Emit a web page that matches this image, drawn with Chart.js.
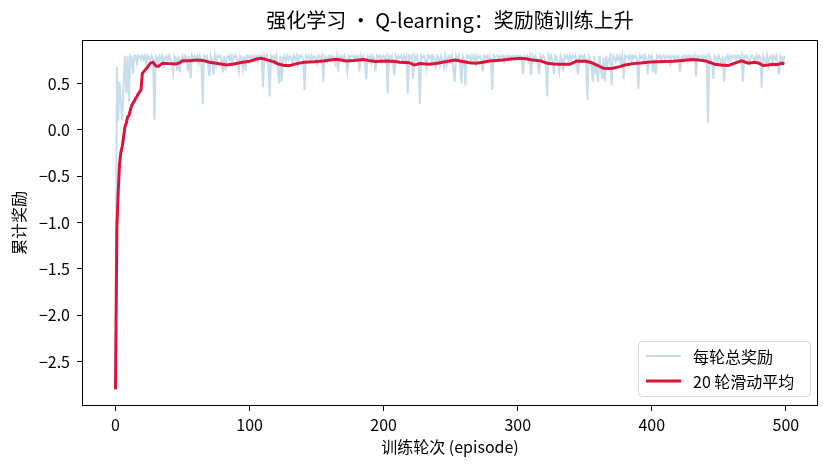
<!DOCTYPE html>
<html>
<head>
<meta charset="utf-8">
<script src="https://cdn.jsdelivr.net/npm/chart.js@4.4.1/dist/chart.umd.min.js"></script>
<style>
  html, body { margin: 0; padding: 0; background: #fff; }
  #wrap { width: 830px; height: 468px; }
</style>
</head>
<body>
<div id="wrap"><canvas id="grafico"></canvas></div>
<script>
// 每轮总奖励 (episode 0..499)
var rawRewards = [
  -2.8, 0.68, 0.1, 0.52, 0.3, 0.1, 0.5, 0.8, 0.4, 0.8, 0.3, 0.8, 0.78, 0.6, 0.8, 0.8, 0.72, 0.8, 0.8, 0.76,
  0.8, 0.76, 0.8, 0.7, 0.8, 0.78, 0.74, 0.8, 0.76, 0.11, 0.8, 0.78, 0.72, 0.8, 0.76, 0.8, 0.7, 0.78, 0.8, 0.74,
  0.8, 0.76, 0.72, 0.62, 0.8, 0.78, 0.64, 0.8, 0.62, 0.76, 0.8, 0.74, 0.8, 0.78, 0.63, 0.8, 0.56, 0.8, 0.76, 0.8,
  0.78, 0.8, 0.72, 0.8, 0.76, 0.28, 0.8, 0.78, 0.8, 0.74, 0.58, 0.8, 0.76, 0.6, 0.8, 0.7, 0.8, 0.78, 0.8, 0.76,
  0.62, 0.8, 0.64, 0.78, 0.8, 0.76, 0.8, 0.72, 0.8, 0.78, 0.8, 0.76, 0.64, 0.8, 0.78, 0.66, 0.8, 0.64, 0.8, 0.78,
  0.8, 0.76, 0.8, 0.78, 0.8, 0.8, 0.74, 0.8, 0.78, 0.8, 0.46, 0.8, 0.76, 0.8, 0.72, 0.36, 0.8, 0.78, 0.8, 0.74,
  0.8, 0.66, 0.5, 0.8, 0.52, 0.78, 0.8, 0.74, 0.8, 0.76, 0.8, 0.78, 0.72, 0.8, 0.76, 0.8, 0.7, 0.8, 0.78, 0.8,
  0.76, 0.43, 0.8, 0.78, 0.8, 0.74, 0.8, 0.76, 0.8, 0.78, 0.72, 0.8, 0.8, 0.76, 0.8, 0.52, 0.8, 0.78, 0.74, 0.8,
  0.8, 0.76, 0.8, 0.78, 0.72, 0.8, 0.63, 0.8, 0.78, 0.8, 0.76, 0.8, 0.74, 0.63, 0.8, 0.78, 0.8, 0.8, 0.76, 0.8,
  0.78, 0.8, 0.63, 0.8, 0.76, 0.8, 0.74, 0.55, 0.8, 0.78, 0.8, 0.72, 0.8, 0.76, 0.63, 0.8, 0.78, 0.8, 0.74, 0.8,
  0.8, 0.76, 0.8, 0.39, 0.8, 0.78, 0.8, 0.72, 0.59, 0.8, 0.76, 0.8, 0.78, 0.8, 0.74, 0.8, 0.76, 0.8, 0.39, 0.8,
  0.78, 0.8, 0.55, 0.8, 0.76, 0.8, 0.74, 0.28, 0.8, 0.78, 0.8, 0.76, 0.66, 0.8, 0.78, 0.8, 0.74, 0.8, 0.76, 0.68,
  0.8, 0.78, 0.7, 0.8, 0.76, 0.68, 0.8, 0.7, 0.78, 0.8, 0.74, 0.8, 0.66, 0.52, 0.8, 0.76, 0.8, 0.72, 0.5, 0.8,
  0.76, 0.48, 0.8, 0.78, 0.8, 0.74, 0.8, 0.76, 0.8, 0.72, 0.8, 0.78, 0.8, 0.76, 0.63, 0.8, 0.78, 0.8, 0.74, 0.8,
  0.76, 0.43, 0.8, 0.78, 0.8, 0.8, 0.76, 0.8, 0.78, 0.8, 0.74, 0.8, 0.8, 0.78, 0.8, 0.76, 0.8, 0.8, 0.78, 0.8,
  0.8, 0.78, 0.8, 0.76, 0.6, 0.8, 0.78, 0.8, 0.74, 0.8, 0.59, 0.8, 0.76, 0.8, 0.78, 0.72, 0.6, 0.8, 0.76, 0.8,
  0.78, 0.72, 0.36, 0.8, 0.76, 0.8, 0.74, 0.6, 0.8, 0.78, 0.72, 0.63, 0.8, 0.76, 0.63, 0.8, 0.78, 0.8, 0.74, 0.8,
  0.76, 0.8, 0.78, 0.8, 0.72, 0.6, 0.8, 0.78, 0.8, 0.76, 0.8, 0.74, 0.32, 0.8, 0.76, 0.7, 0.52, 0.8, 0.6, 0.72,
  0.52, 0.8, 0.66, 0.55, 0.78, 0.52, 0.8, 0.7, 0.76, 0.8, 0.48, 0.8, 0.78, 0.74, 0.8, 0.76, 0.8, 0.72, 0.8, 0.55,
  0.8, 0.78, 0.8, 0.76, 0.8, 0.74, 0.8, 0.78, 0.8, 0.76, 0.44, 0.8, 0.78, 0.8, 0.74, 0.8, 0.76, 0.6, 0.8, 0.78,
  0.8, 0.62, 0.76, 0.6, 0.8, 0.78, 0.8, 0.74, 0.8, 0.8, 0.76, 0.8, 0.78, 0.8, 0.72, 0.8, 0.8, 0.76, 0.8, 0.78,
  0.8, 0.62, 0.78, 0.8, 0.76, 0.8, 0.8, 0.74, 0.8, 0.78, 0.8, 0.76, 0.8, 0.58, 0.8, 0.78, 0.8, 0.8, 0.76, 0.8,
  0.78, 0.8, 0.08, 0.8, 0.76, 0.72, 0.55, 0.8, 0.78, 0.74, 0.8, 0.76, 0.7, 0.8, 0.52, 0.78, 0.8, 0.74, 0.8, 0.76,
  0.8, 0.78, 0.8, 0.76, 0.8, 0.8, 0.74, 0.8, 0.52, 0.8, 0.78, 0.8, 0.76, 0.72, 0.8, 0.8, 0.78, 0.74, 0.8, 0.76,
  0.8, 0.78, 0.45, 0.8, 0.76, 0.72, 0.8, 0.7, 0.78, 0.8, 0.74, 0.8, 0.76, 0.8, 0.72, 0.6, 0.8, 0.78, 0.74, 0.8
];

// 20 轮滑动平均, read at these episodes
var maEpisodes = [
  0, 1, 2, 3, 4, 5, 6, 7, 8, 9, 10, 11, 12, 13, 14, 15, 16, 17, 18, 19, 20,
  22, 24, 26, 28, 30, 32, 35, 40, 45, 48, 50, 55, 61, 65, 70, 75, 83, 88, 95, 100,
  105, 109, 113, 118, 122, 126, 130, 135, 141, 148, 155, 160, 165, 172, 178, 185, 190, 194, 202, 207,
  212, 219, 223, 227, 234, 240, 247, 253, 259, 264, 269, 274, 279, 284, 289, 295, 303, 307, 311, 317,
  322, 327, 331, 339, 344, 351, 355, 359, 364, 368, 371, 376, 380, 386, 392, 397, 404, 410, 416, 423,
  430, 435, 440, 444, 447, 452, 457, 462, 467, 472, 477, 480, 483, 487, 490, 494, 497, 499
];
var maValues = [
  -2.8, -1.06, -0.67, -0.37, -0.24, -0.18, -0.08, 0.03, 0.07, 0.14, 0.155, 0.21, 0.26, 0.29, 0.31, 0.34, 0.36, 0.39, 0.41, 0.43, 0.61,
  0.645, 0.68, 0.72, 0.73, 0.69, 0.685, 0.72, 0.715, 0.71, 0.725, 0.745, 0.745, 0.755, 0.75, 0.73, 0.72, 0.70, 0.71, 0.73, 0.74,
  0.765, 0.773, 0.755, 0.735, 0.708, 0.694, 0.694, 0.715, 0.73, 0.735, 0.744, 0.755, 0.763, 0.744, 0.75, 0.76, 0.745, 0.737, 0.744, 0.74,
  0.73, 0.725, 0.70, 0.715, 0.708, 0.72, 0.737, 0.755, 0.737, 0.725, 0.72, 0.73, 0.744, 0.75, 0.755, 0.765, 0.773, 0.765, 0.755, 0.745,
  0.72, 0.712, 0.708, 0.708, 0.744, 0.74, 0.725, 0.70, 0.665, 0.662, 0.665, 0.683, 0.70, 0.715, 0.722, 0.73, 0.735, 0.737, 0.74, 0.75,
  0.76, 0.755, 0.744, 0.725, 0.708, 0.70, 0.694, 0.72, 0.744, 0.72, 0.73, 0.72, 0.694, 0.70, 0.708, 0.705, 0.72, 0.715
];

var xTicks = [0, 100, 200, 300, 400, 500];
var yTicks = [-2.5, -2.0, -1.5, -1.0, -0.5, 0.0, 0.5];

var fontFamily = '"Noto Sans CJK SC", "DejaVu Sans", sans-serif';
Chart.defaults.color = '#000';
Chart.defaults.font.family = fontFamily;

var rawPoints = rawRewards.map(function (v, i) { return { x: i, y: v }; });
var maPoints = maValues.map(function (v, i) { return { x: maEpisodes[i], y: v }; });

// frame round the axes + legend inside lower right
var framePlugin = {
    id: 'frameLegend',
    afterDraw: function (chart) {
        var ctx = chart.ctx;
        var a = chart.chartArea;
        ctx.save();
        ctx.strokeStyle = '#000';
        ctx.lineWidth = 1;
        ctx.strokeRect(a.left + 0.5, a.top + 0.5, a.right - a.left - 1, a.bottom - a.top - 1);

        var w = 172, h = 55;
        var bx = a.right - 8 - w, by = a.bottom - 10 - h;
        ctx.beginPath();
        ctx.roundRect(bx + 0.5, by + 0.5, w, h, 4);
        ctx.fillStyle = 'rgba(255,255,255,0.8)';
        ctx.fill();
        ctx.strokeStyle = '#d6d6d6';
        ctx.stroke();

        var items = chart.data.datasets;
        ctx.font = '16px ' + fontFamily;
        ctx.textBaseline = 'middle';
        for (var i = 0; i < items.length; i++) {
            var ly = by + 15 + i * 25;
            ctx.beginPath();
            ctx.moveTo(bx + 8, ly);
            ctx.lineTo(bx + 43, ly);
            ctx.strokeStyle = items[i].borderColor;
            ctx.lineWidth = items[i].borderWidth;
            ctx.stroke();
            ctx.fillStyle = '#000';
            ctx.fillText(items[i].label, bx + 55, ly + 1);
        }
        ctx.restore();
    }
};

var ctx = document.getElementById('grafico').getContext('2d');
var grafico = new Chart(ctx, {
    type: 'line',
    data: {
        datasets: [
            {
                label: '每轮总奖励',
                data: rawPoints,
                borderColor: 'rgba(31, 119, 180, 0.25)',
                borderWidth: 2,
                pointRadius: 0,
                tension: 0,
                order: 2
            },
            {
                label: '20 轮滑动平均',
                data: maPoints,
                borderColor: 'rgb(220, 20, 60)',
                borderWidth: 3,
                pointRadius: 0,
                tension: 0,
                order: 1
            }
        ]
    },
    options: {
        responsive: true,
        maintainAspectRatio: false,
        animation: false,
        layout: { padding: { left: 0, right: 12, top: 0, bottom: 0 } },
        plugins: {
            legend: { display: false },
            tooltip: { enabled: false },
            title: {
                display: true,
                fullSize: false,
                text: '强化学习 · Q-learning：奖励随训练上升',
                font: { size: 20, weight: 'normal' },
                padding: { top: 8, bottom: 8 }
            }
        },
        scales: {
            x: {
                type: 'linear',
                min: -25,
                max: 524,
                afterBuildTicks: function (scale) {
                    scale.ticks = xTicks.map(function (v) { return { value: v }; });
                },
                afterFit: function (scale) { scale.height = 62; },
                grid: { display: true, drawOnChartArea: false, tickLength: 5, color: '#000' },
                border: { display: false },
                ticks: { font: { size: 16 }, padding: 4, maxRotation: 0 },
                title: {
                    display: true,
                    text: '训练轮次 (episode)',
                    font: { size: 16 },
                    padding: { top: 0, bottom: 11 }
                }
            },
            y: {
                min: -2.98,
                max: 0.97,
                afterBuildTicks: function (scale) {
                    scale.ticks = yTicks.map(function (v) { return { value: v }; });
                },
                afterFit: function (scale) { scale.width = 82; },
                grid: { display: true, drawOnChartArea: false, tickLength: 5, color: '#000' },
                border: { display: false },
                ticks: {
                    font: { size: 16 },
                    padding: 7,
                    callback: function (v) { return v.toFixed(1).replace('-', '−'); }
                },
                title: {
                    display: true,
                    text: '累计奖励',
                    font: { size: 16 },
                    padding: { top: 9, bottom: 0 }
                }
            }
        }
    },
    plugins: [framePlugin]
});
</script>
</body>
</html>
